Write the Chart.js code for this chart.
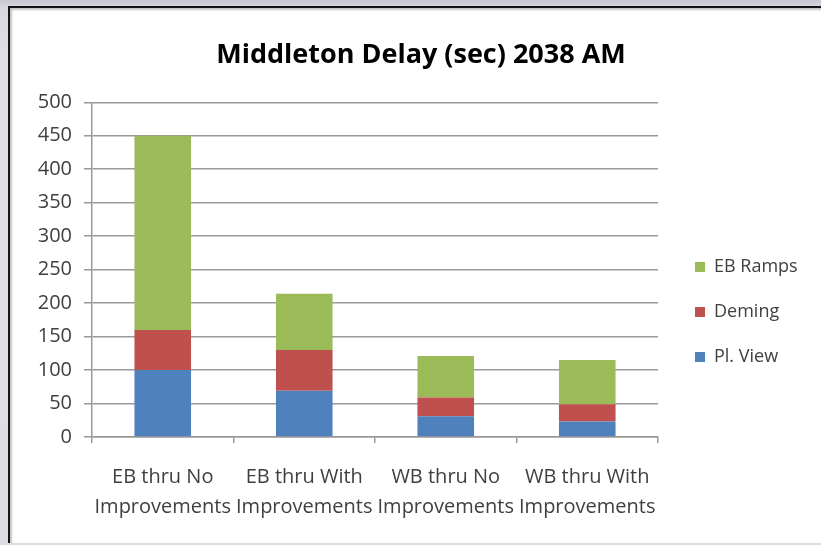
<!DOCTYPE html>
<html><head><meta charset="utf-8">
<script src="https://cdn.jsdelivr.net/npm/chart.js@4.4.1/dist/chart.umd.min.js"></script>
<style>
html,body{margin:0;padding:0;width:821px;height:545px;overflow:hidden;background:linear-gradient(#c6c6ce 0px,#d8d8df 7px,#dedee4 60px,#dcdce2 100%);}
#box{position:absolute;left:8px;top:6px;width:813px;height:537px;box-sizing:border-box;background:#fff;border-left:2px solid #141414;border-top:2px solid #141414;box-shadow:inset 3px 3px 2px -1px #c4c4c4;}
#wrap{position:absolute;left:10px;top:8px;width:811px;height:535px;overflow:hidden;}
</style></head><body>
<div id="box"></div>
<div id="wrap"><canvas id="c" width="822" height="535"></canvas></div>
<script>
const categories = [
  ['EB thru No', 'Improvements'],
  ['EB thru With', 'Improvements'],
  ['WB thru No', 'Improvements'],
  ['WB thru With', 'Improvements']
];
const seriesNames = ['Pl. View', 'Deming', 'EB Ramps'];
const plView = [100, 69, 31, 23];
const deming = [60, 61, 28, 26];
const ebRamps = [290, 84, 62, 66];
const yMin = 0, yMax = 500, yStep = 50;

// shifts the title block so that it is centred on the whole chart box
const titleShift = {
  id: 'titleShift',
  afterLayout(chart) {
    const t = chart.titleBlock;
    if (t) { t.left += 6; t.right += 6; }
  }
};

Chart.defaults.font.family = "'Open Sans', sans-serif";
new Chart(document.getElementById('c'), {
  type: 'bar',
  data: {
    labels: categories,
    datasets: [
      {label: seriesNames[0], data: plView, backgroundColor: '#4F81BD'},
      {label: seriesNames[1], data: deming, backgroundColor: '#C0504D'},
      {label: seriesNames[2], data: ebRamps, backgroundColor: '#9BBB59'}
    ]
  },
  plugins: [titleShift],
  options: {
    responsive: false, animation: false, devicePixelRatio: 1,
    layout: {padding: {left: 22, right: 34, top: 0, bottom: 2}},
    datasets: {bar: {categoryPercentage: 1, barPercentage: 0.4}},
    plugins: {
      title: {display: true, text: 'Middleton Delay (sec) 2038 AM', color: '#000',
        font: {size: 27, weight: 'bold'}, padding: {top: 31.6, bottom: 30.3}},
      legend: {position: 'right', reverse: true, maxWidth: 130,
        title: {display: true, text: ' ', font: {size: 10}, padding: {top: 63, bottom: 0}},
        labels: {boxWidth: 10, boxHeight: 10, padding: 27, color: '#404040', font: {size: 18}}},
      tooltip: {enabled: false}
    },
    scales: {
      x: {stacked: true,
        grid: {drawOnChartArea: false, drawTicks: true, tickLength: 6, color: '#999', lineWidth: 1.5},
        border: {color: '#999', width: 1.5},
        ticks: {color: '#404040', padding: 19, font: {size: 20, lineHeight: 1.5}, maxRotation: 0, autoSkip: false}},
      y: {stacked: true, min: yMin, max: yMax,
        ticks: {stepSize: yStep, color: '#404040', padding: 12, font: {size: 20}},
        grid: {color: '#999', lineWidth: 1.5, tickLength: 8},
        border: {color: '#999', width: 1.5},
        afterFit: s => { s.width = 60; }},
      yR: {position: 'right', display: true, grid: {display: false}, border: {display: false},
        ticks: {display: false}, afterFit: s => { s.width = 10; }}
    }
  }
});
</script>
</body></html>
